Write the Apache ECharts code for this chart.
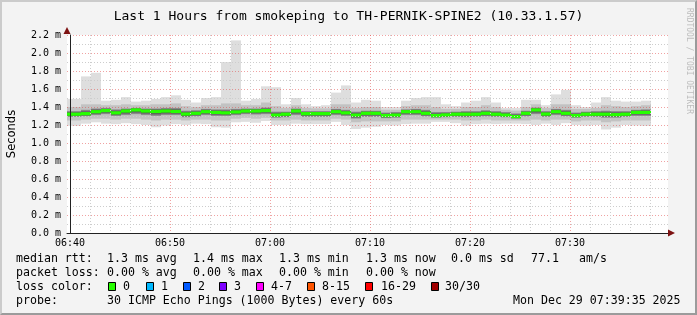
<!DOCTYPE html>
<html>
<head>
<meta charset="utf-8">
<script src="https://cdn.jsdelivr.net/npm/echarts@6.0.0/dist/echarts.min.js"></script>
<style>
  html, body { margin: 0; padding: 0; background: #f3f3f3; }
  #wrap { position: relative; width: 697px; height: 315px; }
  #chart { width: 697px; height: 315px; }
  #frame {
    position: absolute; left: 0; top: 0; width: 697px; height: 315px; box-sizing: border-box;
    border-left: 2px solid #cbcbcb; border-top: 2px solid #cbcbcb;
    border-right: 2px solid #9b9b9b; border-bottom: 2px solid #9b9b9b;
    pointer-events: none;
  }
</style>
</head>
<body>
<div id="wrap">
  <div id="chart"></div>
  <div id="frame"></div>
</div>
<script>
// one column per 60s sample, index 0 = sample ending 06:40:06 (ms)
const rttMax = [1.49, 1.49, 1.74, 1.78, 1.47, 1.48, 1.51, 1.46, 1.47, 1.49,
  1.51, 1.53, 1.48, 1.45, 1.50, 1.51, 1.90, 2.14, 1.47, 1.49,
  1.63, 1.62, 1.43, 1.50, 1.43, 1.41, 1.42, 1.56, 1.64, 1.45,
  1.48, 1.47, 1.40, 1.40, 1.47, 1.50, 1.51, 1.51, 1.43, 1.41,
  1.45, 1.47, 1.51, 1.45, 1.39, 1.39, 1.48, 1.48, 1.42, 1.54,
  1.59, 1.42, 1.40, 1.45, 1.51, 1.47, 1.46, 1.46, 1.47]
const rttQ90 = [1.40, 1.40, 1.43, 1.43, 1.42, 1.42, 1.43, 1.42, 1.42, 1.43,
  1.43, 1.44, 1.41, 1.40, 1.42, 1.42, 1.44, 1.44, 1.42, 1.42,
  1.45, 1.41, 1.39, 1.42, 1.39, 1.385, 1.385, 1.43, 1.43, 1.39,
  1.40, 1.40, 1.37, 1.37, 1.41, 1.42, 1.42, 1.40, 1.38, 1.38,
  1.40, 1.40, 1.42, 1.40, 1.37, 1.36, 1.40, 1.43, 1.39, 1.43,
  1.43, 1.38, 1.38, 1.39, 1.42, 1.41, 1.40, 1.41, 1.42]
const rttQ75 = [1.355, 1.355, 1.37, 1.385, 1.39, 1.375, 1.385, 1.39, 1.385, 1.385,
  1.39, 1.39, 1.36, 1.365, 1.38, 1.375, 1.375, 1.38, 1.385, 1.385,
  1.395, 1.35, 1.35, 1.385, 1.355, 1.355, 1.355, 1.38, 1.37, 1.35,
  1.36, 1.36, 1.34, 1.345, 1.375, 1.38, 1.37, 1.345, 1.345, 1.35,
  1.355, 1.355, 1.365, 1.355, 1.345, 1.33, 1.36, 1.395, 1.355, 1.38,
  1.37, 1.34, 1.35, 1.355, 1.36, 1.355, 1.355, 1.37, 1.375]
const rttMedian = [1.32, 1.32, 1.326, 1.348, 1.36, 1.335, 1.355, 1.367, 1.355, 1.35,
  1.355, 1.35, 1.322, 1.33, 1.348, 1.34, 1.335, 1.345, 1.355, 1.355,
  1.36, 1.31, 1.32, 1.355, 1.326, 1.326, 1.326, 1.348, 1.335, 1.31,
  1.33, 1.33, 1.305, 1.31, 1.348, 1.348, 1.33, 1.305, 1.312, 1.32,
  1.32, 1.32, 1.33, 1.32, 1.31, 1.293, 1.33, 1.367, 1.322, 1.348,
  1.33, 1.305, 1.32, 1.32, 1.32, 1.315, 1.32, 1.34, 1.34]
const rttQ25 = [1.29, 1.29, 1.295, 1.31, 1.32, 1.30, 1.31, 1.32, 1.31, 1.30,
  1.31, 1.31, 1.285, 1.295, 1.31, 1.30, 1.30, 1.31, 1.32, 1.315,
  1.32, 1.28, 1.285, 1.31, 1.29, 1.29, 1.29, 1.31, 1.30, 1.27,
  1.29, 1.29, 1.275, 1.28, 1.31, 1.31, 1.295, 1.28, 1.285, 1.29,
  1.285, 1.29, 1.295, 1.29, 1.285, 1.27, 1.295, 1.32, 1.29, 1.31,
  1.295, 1.28, 1.29, 1.29, 1.28, 1.28, 1.29, 1.30, 1.30]
const rttQ10 = [1.25, 1.25, 1.26, 1.27, 1.27, 1.26, 1.27, 1.27, 1.26, 1.25,
  1.26, 1.26, 1.25, 1.26, 1.26, 1.25, 1.25, 1.27, 1.28, 1.27,
  1.28, 1.25, 1.25, 1.26, 1.25, 1.25, 1.25, 1.27, 1.26, 1.23,
  1.24, 1.24, 1.24, 1.24, 1.26, 1.26, 1.26, 1.26, 1.26, 1.26,
  1.25, 1.25, 1.26, 1.25, 1.25, 1.25, 1.25, 1.26, 1.25, 1.26,
  1.26, 1.24, 1.25, 1.25, 1.23, 1.24, 1.25, 1.25, 1.25]
const rttMin = [1.19, 1.19, 1.215, 1.23, 1.215, 1.21, 1.22, 1.21, 1.20, 1.175,
  1.195, 1.21, 1.20, 1.215, 1.21, 1.175, 1.17, 1.23, 1.235, 1.225,
  1.245, 1.20, 1.20, 1.215, 1.21, 1.21, 1.21, 1.235, 1.20, 1.155,
  1.17, 1.18, 1.20, 1.195, 1.21, 1.215, 1.215, 1.235, 1.235, 1.22,
  1.195, 1.21, 1.215, 1.21, 1.215, 1.215, 1.21, 1.20, 1.215, 1.20,
  1.22, 1.20, 1.195, 1.20, 1.15, 1.17, 1.20, 1.195, 1.19]

const yTicks = [0, 0.2, 0.4, 0.6, 0.8, 1.0, 1.2, 1.4, 1.6, 1.8, 2.0, 2.2]
const titleText = 'Last 1 Hours from smokeping to TH-PERNIK-SPINE2 (10.33.1.57)'
const rttStats = ['1.3 ms avg', '1.4 ms max', '1.3 ms min', '1.3 ms now', '0.0 ms sd', '77.1', 'am/s']
const lossStats = ['0.00 % avg', '0.00 % max', '0.00 % min', '0.00 % now']
const lossLabels = ['0', '1', '2', '3', '4-7', '8-15', '16-29', '30/30']
const lossColors = ['#26ff00', '#00b8ff', '#0059ff', '#7e00ff', '#ff00ff', '#ff5500', '#ff0000', '#a10000']
const probeText = '30 ICMP Echo Pings (1000 Bytes) every 60s'
const stampText = 'Mon Dec 29 07:39:35 2025'

// x axis in seconds since 06:40:00, 6 s per pixel
const xMin = -18
const xMax = 3588

const chart = echarts.init(document.getElementById('chart'))

const smokeData = rttMedian.map((m, j) => [j, rttMin[j], rttQ10[j], rttQ25[j], m, rttQ75[j], rttQ90[j], rttMax[j]])

// split line colours cycle per 6 s tick; tick 3 is 06:40
const vLineColors = []
for (let i = 0; i < 100; i++) {
  if (i === 3) vLineColors.push('rgba(225,70,70,0.5)')
  else if ((i - 3) % 20 === 0) vLineColors.push('#cdcdcd')
  else vLineColors.push('rgba(0,0,0,0)')
}

const mono = 'DejaVu Sans Mono'
const legendFont = '11.6px "DejaVu Sans Mono"'
const txt = (x, y, s) => ({ type: 'text', x: x, y: y, style: { text: s, font: legendFont, fill: '#000', verticalAlign: 'middle' } })

const graphics = []
graphics.push(txt(16, 259, 'median rtt:'))
;[107, 193, 279, 366, 451, 531, 579].forEach((x, i) => graphics.push(txt(x, 259, rttStats[i])))
graphics.push(txt(16, 273, 'packet loss:'))
;[107, 193, 279, 366].forEach((x, i) => graphics.push(txt(x, 273, lossStats[i])))
graphics.push(txt(16, 287, 'loss color:'))
const boxX = [108, 146, 183, 219, 256, 307, 365, 431]
const boxTextX = [123, 161, 198, 234, 271, 322, 381, 445]
lossLabels.forEach((l, i) => {
  graphics.push({ type: 'rect', shape: { x: boxX[i] + 0.5, y: 282.5, width: 7, height: 8 }, style: { fill: lossColors[i], stroke: '#000', lineWidth: 1 } })
  graphics.push(txt(boxTextX[i], 287, l))
})
graphics.push(txt(16, 301, 'probe:'))
graphics.push(txt(107, 301, probeText))
graphics.push(txt(513, 301, stampText))
graphics.push({ type: 'text', x: 689, y: 61, rotation: -Math.PI / 2, style: { text: 'RRDTOOL / TOBI OETIKER', font: '8px "DejaVu Sans Mono"', fill: '#bdbdbd', align: 'center', verticalAlign: 'middle' } })
// axis arrows
graphics.push({ type: 'polygon', z: 10, shape: { points: [[67, 27], [63.5, 34], [70.5, 34]] }, style: { fill: '#7d1212' } })
graphics.push({ type: 'polygon', z: 10, shape: { points: [[675, 233], [668, 229.5], [668, 236.5]] }, style: { fill: '#7d1212' } })

const pad = n => (n < 10 ? '0' : '') + n

const option = {
  animation: false,
  backgroundColor: '#f3f3f3',
  title: {
    text: titleText,
    left: 'center',
    top: 5,
    textStyle: { fontFamily: mono, fontSize: 13, fontWeight: 'normal', color: '#000' }
  },
  grid: {
    left: 67, right: 29, top: 35, bottom: 82,
    outerBoundsMode: 'none',
    containLabel: false,
    show: true, backgroundColor: '#ffffff', borderWidth: 0, z: -5
  },
  xAxis: {
    type: 'value',
    min: xMin,
    max: xMax,
    interval: 6,
    axisLine: { lineStyle: { color: '#222', width: 1 } },
    axisTick: { show: false },
    axisLabel: {
      fontFamily: mono, fontSize: 10, color: '#000', margin: 5,
      showMinLabel: true, showMaxLabel: true,
      formatter: function (v) {
        if (Math.round(v) % 600 !== 0) return ''
        const total = 400 + Math.round(v) / 60
        return pad(Math.floor(total / 60)) + ':' + pad(total % 60)
      }
    },
    splitLine: { show: true, showMinLine: true, showMaxLine: true, lineStyle: { color: vLineColors, type: [1, 2], width: 1 } }
  },
  yAxis: {
    type: 'value',
    min: yTicks[0],
    max: yTicks[yTicks.length - 1],
    interval: 0.2,
    name: 'Seconds',
    nameLocation: 'middle',
    nameRotate: 90,
    nameGap: 49,
    nameTextStyle: { fontFamily: 'DejaVu Sans', fontSize: 11.5, color: '#000' },
    axisLine: { show: true, lineStyle: { color: '#222', width: 1 } },
    axisTick: { show: false },
    axisLabel: {
      fontFamily: mono, fontSize: 10, color: '#000', margin: 6,
      formatter: v => v.toFixed(1) + ' m'
    },
    splitLine: { show: true, lineStyle: { color: 'rgba(225,70,70,0.5)', type: [1, 2] } },
    minorTick: { show: false, splitNumber: 2 },
    minorSplitLine: { show: true, lineStyle: { color: '#cdcdcd', type: [1, 2] } }
  },
  graphic: graphics,
  series: [
    {
      type: 'custom',
      z: -1,
      clip: true,
      data: smokeData,
      encode: { x: 0, y: 4 },
      renderItem: function (params, api) {
        const j = api.value(0)
        const xs = Math.max(j * 60 - 54, xMin)
        const xe = j * 60 + 6
        const left = api.coord([xs, 0])[0]
        const right = api.coord([xe, 0])[0]
        const w = right - left
        const y = v => api.coord([xs, v])[1]
        const band = (lo, hi, fill) => ({
          type: 'rect',
          shape: { x: left, y: y(hi), width: w, height: y(lo) - y(hi) },
          style: { fill: fill }
        })
        const vMin = api.value(1), q10 = api.value(2), q25 = api.value(3), med = api.value(4)
        const q75 = api.value(5), q90 = api.value(6), vMax = api.value(7)
        const off = (y(med) - y(q75)) / (y(q25) - y(q75))
        const core = new echarts.graphic.LinearGradient(0, 0, 0, 1, [
          { offset: 0, color: '#9c9c9c' },
          { offset: Math.max(0, off - 0.08), color: '#3a3a3a' },
          { offset: Math.min(1, off + 0.08), color: '#3a3a3a' },
          { offset: 1, color: '#9c9c9c' }
        ])
        return {
          type: 'group',
          children: [
            band(vMin, vMax, '#dedede'),
            band(q10, q90, '#c2c2c2'),
            band(q25, q75, core),
            { type: 'rect', shape: { x: left, y: y(med) - 1.6, width: w, height: 3.2 }, style: { fill: lossColors[0] } }
          ]
        }
      }
    }
  ]
}

chart.setOption(option)
</script>
</body>
</html>
